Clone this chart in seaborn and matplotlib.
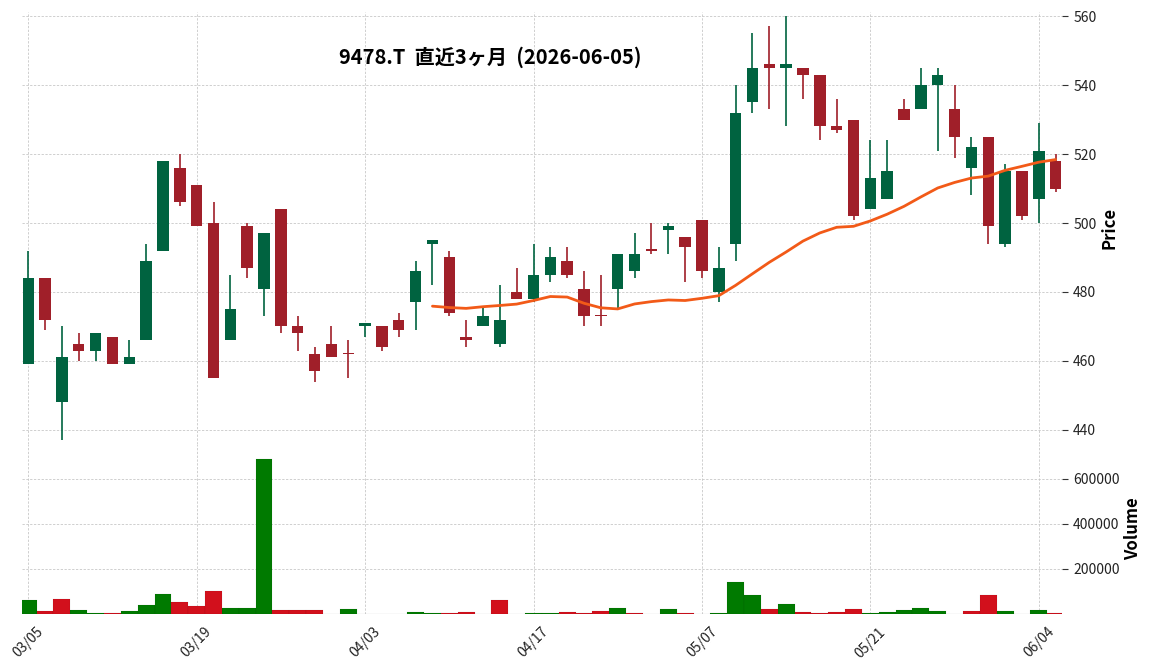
import numpy as np
import pandas as pd
import matplotlib
matplotlib.use("Agg")
import matplotlib.pyplot as plt
import seaborn as sns

# daily OHLC (62 trading days, 2026-03-05 .. 2026-06-05)
opens = [459, 484, 448, 465, 463, 467, 459, 466, 492, 516,
         511, 500, 466, 499, 481, 504, 470, 462, 465, 462,
         470, 470, 472, 477, 494, 490, 467, 470, 465, 480,
         478, 485, 489, 481, 473, 481, 486, 492, 498, 496,
         501, 480, 494, 535, 546, 545, 545, 543, 528, 530,
         504, 507, 533, 533, 540, 533, 516, 525, 494, 515,
         507, 518]
highs = [492, 484, 470, 468, 468, 467, 466, 494, 518, 520,
         511, 506, 485, 500, 497, 504, 473, 464, 470, 466,
         471, 470, 474, 489, 495, 492, 472, 476, 482, 487,
         494, 493, 493, 486, 485, 491, 497, 500, 500, 496,
         501, 493, 540, 555, 557, 560, 545, 543, 536, 530,
         524, 524, 536, 545, 545, 540, 525, 525, 517, 515,
         529, 520]
lows = [459, 469, 437, 460, 460, 459, 459, 466, 492, 505,
        499, 455, 466, 484, 473, 468, 463, 454, 461, 455,
        467, 463, 467, 469, 482, 473, 464, 470, 464, 478,
        477, 483, 484, 470, 470, 475, 484, 491, 491, 483,
        484, 477, 489, 532, 533, 528, 536, 524, 526, 501,
        504, 507, 530, 533, 521, 519, 508, 494, 493, 501,
        500, 509]
closes = [484, 472, 461, 463, 468, 459, 461, 489, 518, 506,
          499, 455, 475, 487, 497, 470, 468, 457, 461, 462,
          471, 464, 469, 486, 495, 474, 466, 473, 472, 478,
          485, 490, 485, 473, 473, 491, 491, 492, 499, 493,
          486, 487, 532, 545, 545, 546, 543, 528, 527, 502,
          513, 515, 530, 540, 543, 525, 522, 499, 515, 502,
          521, 510]
volumes = [61000, 12000, 65000, 16000, 3000, 3000, 12000, 38000, 87000, 52000,
           34000, 101000, 25000, 25000, 690000, 16000, 16000, 16000, 0, 21000,
           0, 0, 0, 7000, 3000, 3000, 7000, 0, 61000, 0,
           3000, 3000, 7000, 3000, 12000, 25000, 3000, 0, 21000, 3000,
           0, 3000, 141000, 83000, 21000, 43000, 7000, 3000, 7000, 21000,
           3000, 7000, 16000, 25000, 12000, 0, 12000, 83000, 12000, 0,
           16000, 3000]
tick_labels = ["03/05", "03/19", "04/03", "04/17", "05/07", "05/21", "06/04"]
title = "9478.T  直近3ヶ月  (2026-06-05)"

df = pd.DataFrame({"open": opens, "high": highs, "low": lows,
                   "close": closes, "volume": volumes})
df["i"] = np.arange(len(df))
df["ma25"] = df["close"].rolling(25).mean()
df["up"] = df["close"] > df["open"]
prev = df["close"].shift(1)
df["vdir"] = np.where((df["close"] > prev) | prev.isna(), "up", "down")

sns.set_theme(style="whitegrid", rc={
    "grid.linestyle": (0, (3, 2)), "grid.color": "#c2c2c2", "grid.linewidth": 0.55,
    "axes.edgecolor": "white", "text.color": "black",
    "xtick.color": "#222222", "ytick.color": "#222222",
    "axes.labelcolor": "black",
})
plt.rcParams["font.family"] = ["Noto Sans CJK JP", "DejaVu Sans"]

fig = plt.figure(figsize=(11.52, 6.71), dpi=100)
ax = fig.add_axes([0.0191, 0.3383, 0.9028, 0.6438])
axv = fig.add_axes([0.0191, 0.0854, 0.9028, 0.2529], sharex=ax)

up_c, dn_c = "#006340", "#a01f29"
cols = np.where(df["up"], up_c, dn_c)

# candles
ax.vlines(df["i"], df["low"], df["high"], colors=cols, lw=1.2, zorder=2)
body = (df["close"] - df["open"]).abs().clip(lower=0.35)
ax.bar(df["i"], body, bottom=df[["open", "close"]].min(axis=1), width=0.68,
       color=cols, linewidth=0, zorder=3)

ma = df.dropna(subset=["ma25"])
sns.lineplot(x=ma["i"], y=ma["ma25"], ax=ax, color="#f25a18", lw=2, zorder=4)

# volume
sns.barplot(data=df, x="i", y="volume", hue="vdir",
            palette={"up": "#007a00", "down": "#d2101c"}, native_scale=True,
            dodge=False, width=1.0, saturation=1, errorbar=None, legend=False,
            edgecolor="#00000022", linewidth=0.3, ax=axv)

ax.set_xlim(-0.37, 61.38)
ax.set_ylim(df["low"].min() - 1.1, df["high"].max() + 1.2)
axv.set_ylim(0, 755000)

for a in (ax, axv):
    for s in a.spines.values():
        s.set_visible(False)
    a.yaxis.tick_right()
    a.yaxis.set_label_position("right")
    a.tick_params(axis="y", length=4, width=0.8, color="#333333",
                  labelsize=10, pad=4, left=False, right=True)
    a.grid(True, axis="both")
    a.set_axisbelow(True)

ax.set_yticks(range(440, 561, 20))
ax.tick_params(axis="x", length=0, labelbottom=False)
ax.set_ylabel("Price", fontsize=12, fontweight="bold", labelpad=3)
ax.set_xlabel("")

vt = [200000, 400000, 600000]
axv.set_yticks(vt)
axv.set_yticklabels([str(v) for v in vt])
axv.set_ylabel("Volume", fontsize=12, fontweight="bold", labelpad=3)
axv.set_xticks(range(0, 61, 10))
axv.set_xticklabels(tick_labels, rotation=45, ha="center")
axv.tick_params(axis="x", length=4, width=0.8, color="#333333",
                labelsize=10, pad=4)
axv.set_xlabel("")
axv.set_xlim(-0.37, 61.38)

fig.text(490 / 1152, 1 - 57 / 671, title, ha="center", va="center",
         fontsize=14.5, fontweight="bold", color="black")

fig.savefig("out.png", dpi=100)
